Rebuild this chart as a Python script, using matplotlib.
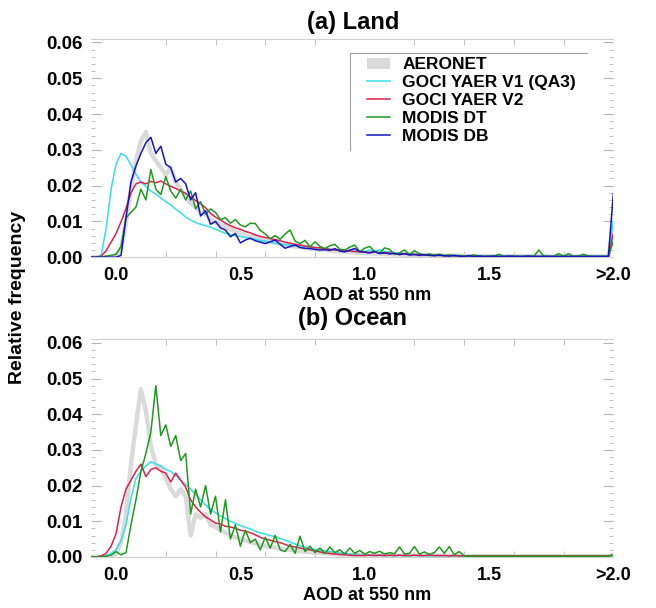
import numpy as np
import matplotlib
matplotlib.use("Agg")
import matplotlib.pyplot as plt
from matplotlib.lines import Line2D
from matplotlib.patches import Patch

plt.rcParams["font.family"] = ["Liberation Sans", "DejaVu Sans"]
plt.rcParams["font.weight"] = "bold"

# AOD bin centres, step 0.02; the last bin is the ">2.0" bin
aod = np.round(np.arange(-0.10, 2.001, 0.02), 2)

series_names = ["AERONET", "GOCI YAER V1 (QA3)", "GOCI YAER V2", "MODIS DT", "MODIS DB"]
x_tick_vals = [0.0, 0.5, 1.0, 1.5, 2.0]
x_tick_labels = ["0.0", "0.5", "1.0", "1.5", ">2.0"]

# ---- (a) Land ----
land_aeronet = [
    0, 0, 0, 0, 0, 0.0005, 0.002, 0.010, 0.019, 0.027,
    0.0325, 0.035, 0.029, 0.027, 0.025, 0.023, 0.025, 0.021, 0.019, 0.017,
    0.015, 0.014, 0.0125, 0.012, 0.0105, 0.0098, 0.009, 0.0085, 0.0078, 0.0072,
    0.0068, 0.0062, 0.0058, 0.0054, 0.0050, 0.0046, 0.0043, 0.0040, 0.0037, 0.0034,
    0.0032, 0.0030, 0.0028, 0.0026, 0.0024, 0.0022, 0.0021, 0.0020, 0.0018, 0.0017,
    0.0016, 0.0015, 0.0014, 0.0013, 0.0012, 0.0012, 0.0011, 0.0010, 0.0010, 0.0009,
    0.0009, 0.0008, 0.0008, 0.0007, 0.0007, 0.0006, 0.0006, 0.0006, 0.0005, 0.0005,
    0.0005, 0.0004, 0.0004, 0.0004, 0.0004, 0.0003, 0.0003, 0.0003, 0.0003, 0.0003,
    0.0003, 0.0003, 0.0003, 0.0003, 0.0003, 0.0003, 0.0003, 0.0003, 0.0003, 0.0003,
    0.0002, 0.0002, 0.0002, 0.0002, 0.0002, 0.0002, 0.0002, 0.0002, 0.0002, 0.0002,
    0.0002, 0.0002, 0.0002, 0.0002, 0.0002, 0.008,
]
land_goci_v1 = [
    0, 0, 0.0005, 0.008, 0.019, 0.026, 0.029, 0.0282, 0.0258, 0.0232,
    0.021, 0.0198, 0.0185, 0.0176, 0.0166, 0.0155, 0.0146, 0.0134, 0.0124, 0.0112,
    0.0104, 0.0097, 0.0092, 0.0088, 0.0084, 0.0078, 0.0072, 0.0067, 0.0063, 0.0060,
    0.0058, 0.0055, 0.0052, 0.0050, 0.0047, 0.0045, 0.0042, 0.0039, 0.0037, 0.0035,
    0.0034, 0.0032, 0.0031, 0.0030, 0.0029, 0.0027, 0.0026, 0.0024, 0.0022, 0.0020,
    0.0019, 0.0018, 0.0017, 0.0016, 0.0015, 0.0016, 0.0020, 0.0015, 0.0021, 0.0014,
    0.0016, 0.0010, 0.0012, 0.0008, 0.0010, 0.0007, 0.0009, 0.0006, 0.0008, 0.0006,
    0.0005, 0.0006, 0.0004, 0.0005, 0.0004, 0.0004, 0.0003, 0.0004, 0.0003, 0.0003,
    0.0004, 0.0003, 0.0003, 0.0004, 0.0003, 0.0003, 0.0003, 0.0004, 0.0003, 0.0003,
    0.0003, 0.0004, 0.0003, 0.0003, 0.0004, 0.0003, 0.0003, 0.0003, 0.0004, 0.0003,
    0.0003, 0.0003, 0.0003, 0.0003, 0.0003, 0.0104,
]
land_goci_v2 = [
    0, 0, 0.0003, 0.0018, 0.0042, 0.0066, 0.0099, 0.0136, 0.018, 0.0205,
    0.021, 0.0205, 0.0212, 0.0208, 0.0213, 0.0205, 0.0198, 0.0192, 0.0185, 0.0178,
    0.0168, 0.0158, 0.015, 0.0138, 0.0122, 0.0112, 0.0104, 0.0095, 0.0088, 0.0082,
    0.0078, 0.0072, 0.0068, 0.0062, 0.0058, 0.0055, 0.0052, 0.0049, 0.0046, 0.0042,
    0.0039, 0.0036, 0.0034, 0.0031, 0.0029, 0.0027, 0.0026, 0.0024, 0.0022, 0.0020,
    0.0019, 0.0018, 0.0017, 0.0016, 0.0015, 0.0014, 0.0013, 0.0015, 0.0012, 0.0011,
    0.0012, 0.0010, 0.0009, 0.0010, 0.0008, 0.0007, 0.0008, 0.0006, 0.0006, 0.0005,
    0.0005, 0.0004, 0.0005, 0.0004, 0.0003, 0.0003, 0.0003, 0.0002, 0.0002, 0.0002,
    0.0002, 0.0002, 0.0002, 0.0002, 0.0002, 0.0002, 0.0002, 0.0002, 0.0002, 0.0002,
    0.0002, 0.0002, 0.0002, 0.0002, 0.0002, 0.0002, 0.0002, 0.0002, 0.0002, 0.0002,
    0.0002, 0.0002, 0.0002, 0.0002, 0.0002, 0.0067,
]
land_modis_dt = [
    0, 0, 0, 0.0003, 0.0005, 0.0008, 0.003, 0.011, 0.0125, 0.014,
    0.019, 0.016, 0.0245, 0.019, 0.0175, 0.0225, 0.0185, 0.0165, 0.019, 0.016,
    0.0185, 0.0135, 0.0155, 0.012, 0.0135, 0.0125, 0.0105, 0.011, 0.0095, 0.0105,
    0.009, 0.0085, 0.0095, 0.0094, 0.0075, 0.0065, 0.0052, 0.0060, 0.0050, 0.0065,
    0.0076, 0.0045, 0.0038, 0.0047, 0.0029, 0.0043, 0.0030, 0.0024, 0.0032, 0.0036,
    0.0022, 0.0020, 0.0028, 0.0034, 0.0015, 0.0025, 0.0030, 0.0016, 0.0012, 0.0026,
    0.0022, 0.0008, 0.0012, 0.0020, 0.0008, 0.0018, 0.0010, 0.0006, 0.0009, 0.0006,
    0.0008, 0.0004, 0.0006, 0.0004, 0.0005, 0.0003, 0.0004, 0.0006, 0.0003, 0.0002,
    0.0003, 0.0002, 0.0008, 0.0002, 0.0002, 0.0003, 0.0002, 0.0002, 0.0003, 0.0002,
    0.0020, 0.0003, 0.0002, 0.0002, 0.0010, 0.0003, 0.0010, 0.0002, 0.0003, 0.0008,
    0.0003, 0.0002, 0.0002, 0.0002, 0.0002, 0.0045,
]
land_modis_db = [
    0, 0, 0, 0, 0, 0, 0.0005, 0.011, 0.021, 0.0255,
    0.029, 0.032, 0.0335, 0.029, 0.031, 0.026, 0.025, 0.021, 0.022, 0.0205,
    0.016, 0.018, 0.0115, 0.013, 0.0092, 0.0100, 0.0082, 0.0076, 0.0057, 0.0066,
    0.0040, 0.0048, 0.0053, 0.0046, 0.0042, 0.0038, 0.0043, 0.0048, 0.0036, 0.0025,
    0.0030, 0.0034, 0.0027, 0.0025, 0.0024, 0.0022, 0.0020, 0.0021, 0.0019, 0.0024,
    0.0017, 0.0015, 0.0020, 0.0024, 0.0016, 0.0014, 0.0012, 0.0016, 0.0010, 0.0013,
    0.0009, 0.0011, 0.0007, 0.0010, 0.0006, 0.0008, 0.0005, 0.0007, 0.0005, 0.0004,
    0.0006, 0.0004, 0.0003, 0.0005, 0.0003, 0.0002, 0.0004, 0.0002, 0.0003, 0.0002,
    0.0002, 0.0003, 0.0002, 0.0002, 0.0003, 0.0002, 0.0002, 0.0002, 0.0003, 0.0002,
    0.0002, 0.0002, 0.0002, 0.0002, 0.0002, 0.0002, 0.0002, 0.0002, 0.0002, 0.0002,
    0.0002, 0.0002, 0.0002, 0.0002, 0.0002, 0.0178,
]

# ---- (b) Ocean ----
ocean_aeronet = [
    0, 0, 0, 0, 0, 0.001, 0.004, 0.012, 0.026, 0.037,
    0.047, 0.041, 0.031, 0.026, 0.025, 0.022, 0.019, 0.017, 0.019, 0.017,
    0.006, 0.012, 0.011, 0.012, 0.009, 0.0085, 0.0075, 0.0068, 0.006, 0.0055,
    0.005, 0.0046, 0.0042, 0.0038, 0.0034, 0.0031, 0.0028, 0.0026, 0.0024, 0.0022,
    0.0020, 0.0018, 0.0016, 0.0015, 0.0014, 0.0012, 0.0011, 0.0010, 0.0009, 0.0008,
    0.0007, 0.0007, 0.0006, 0.0006, 0.0005, 0.0005, 0.0004, 0.0004, 0.0004, 0.0003,
    0.0003, 0.0003, 0.0003, 0.0003, 0.0003, 0.0003, 0.0003, 0.0003, 0.0003, 0.0003,
    0.0003, 0.0003, 0.0003, 0.0003, 0.0003, 0.0002, 0.0002, 0.0002, 0.0002, 0.0002,
    0.0002, 0.0002, 0.0002, 0.0002, 0.0002, 0.0002, 0.0002, 0.0002, 0.0002, 0.0002,
    0.0002, 0.0002, 0.0002, 0.0002, 0.0002, 0.0002, 0.0002, 0.0002, 0.0002, 0.0002,
    0.0002, 0.0002, 0.0002, 0.0002, 0.0002, 0.0005,
]
ocean_goci_v1 = [
    0, 0, 0.0002, 0.0004, 0.001, 0.002, 0.0045, 0.009, 0.0165, 0.022,
    0.024, 0.0255, 0.0267, 0.026, 0.0255, 0.0245, 0.024, 0.0228, 0.0215, 0.0203,
    0.019, 0.0175, 0.016, 0.0145, 0.0132, 0.0124, 0.0115, 0.0108, 0.0100, 0.0094,
    0.0088, 0.0083, 0.0078, 0.0072, 0.0067, 0.0064, 0.0060, 0.0057, 0.0052, 0.0047,
    0.0042, 0.0036, 0.0031, 0.0027, 0.0024, 0.0021, 0.0019, 0.0017, 0.0015, 0.0013,
    0.0011, 0.0010, 0.0008, 0.0007, 0.0006, 0.0005, 0.0005, 0.0004, 0.0004, 0.0004,
    0.0004, 0.0003, 0.0004, 0.0003, 0.0003, 0.0004, 0.0003, 0.0003, 0.0003, 0.0003,
    0.0003, 0.0003, 0.0003, 0.0003, 0.0003, 0.0003, 0.0003, 0.0003, 0.0003, 0.0003,
    0.0003, 0.0003, 0.0003, 0.0003, 0.0003, 0.0003, 0.0003, 0.0003, 0.0003, 0.0003,
    0.0003, 0.0003, 0.0003, 0.0003, 0.0003, 0.0003, 0.0003, 0.0003, 0.0003, 0.0003,
    0.0003, 0.0003, 0.0003, 0.0003, 0.0003, 0.0004,
]
ocean_goci_v2 = [
    0, 0, 0.0003, 0.001, 0.003, 0.0065, 0.014, 0.019, 0.0215, 0.024,
    0.026, 0.0225, 0.0245, 0.025, 0.024, 0.0235, 0.021, 0.0235, 0.0215, 0.0195,
    0.016, 0.014, 0.0125, 0.0112, 0.0104, 0.0095, 0.0092, 0.0086, 0.0084, 0.008,
    0.0075, 0.0072, 0.0068, 0.0062, 0.0055, 0.0050, 0.0047, 0.0043, 0.0040, 0.0035,
    0.0030, 0.0028, 0.0025, 0.0022, 0.0020, 0.0017, 0.0014, 0.0011, 0.0010, 0.0008,
    0.0007, 0.0006, 0.0005, 0.0004, 0.0004, 0.0004, 0.0005, 0.0004, 0.0005, 0.0004,
    0.0005, 0.0004, 0.0005, 0.0004, 0.0004, 0.0005, 0.0004, 0.0004, 0.0005, 0.0004,
    0.0004, 0.0004, 0.0003, 0.0004, 0.0003, 0.0003, 0.0003, 0.0003, 0.0003, 0.0003,
    0.0003, 0.0003, 0.0003, 0.0003, 0.0003, 0.0003, 0.0003, 0.0003, 0.0003, 0.0003,
    0.0003, 0.0003, 0.0003, 0.0003, 0.0003, 0.0003, 0.0003, 0.0003, 0.0003, 0.0003,
    0.0003, 0.0003, 0.0003, 0.0003, 0.0003, 0.0006,
]
ocean_modis_dt = [
    0, 0, 0, 0.0002, 0.0005, 0.0015, 0.0006, 0.0012, 0.009, 0.016,
    0.024, 0.029, 0.035, 0.048, 0.034, 0.037, 0.031, 0.034, 0.027, 0.029,
    0.012, 0.019, 0.014, 0.020, 0.012, 0.017, 0.007, 0.016, 0.005, 0.009,
    0.003, 0.0075, 0.004, 0.005, 0.002, 0.0055, 0.0025, 0.006, 0.002, 0.0015,
    0.0035, 0.001, 0.0058, 0.0015, 0.003, 0.0012, 0.0025, 0.001, 0.0028, 0.0012,
    0.002, 0.0008, 0.0025, 0.001, 0.0018, 0.0008, 0.0015, 0.0010, 0.0016, 0.0008,
    0.0012, 0.0009, 0.0028, 0.0008, 0.0010, 0.0029, 0.0008, 0.0014, 0.0007, 0.0012,
    0.0028, 0.0010, 0.0029, 0.0006, 0.0015, 0.0003, 0.0002, 0.0002, 0.0002, 0.0002,
    0.0002, 0.0002, 0.0002, 0.0002, 0.0002, 0.0002, 0.0002, 0.0002, 0.0002, 0.0002,
    0.0002, 0.0002, 0.0002, 0.0002, 0.0002, 0.0002, 0.0002, 0.0002, 0.0002, 0.0002,
    0.0002, 0.0002, 0.0002, 0.0002, 0.0002, 0.0005,
]

panels = [
    ("(a) Land", [land_aeronet, land_goci_v1, land_goci_v2, land_modis_dt, land_modis_db]),
    ("(b) Ocean", [ocean_aeronet, ocean_goci_v1, ocean_goci_v2, ocean_modis_dt]),
]
line_colors = ["#dadada", "#33e0e6", "#e0204c", "#1f9a1f", "#1414c0"]
line_widths = [3.2, 1.1, 1.1, 1.1, 1.1]

tick_gray = "#b4b4b4"

fig = plt.figure(figsize=(6.56, 6.08), dpi=100)
axes_rects = [[0.139, 0.577, 0.796, 0.359], [0.139, 0.084, 0.796, 0.358]]
title_y = [1 - 23 / 608, 1 - 318 / 608]
xlabel_y = [1 - 295 / 608, 1 - 595 / 608]

for k, (title, series) in enumerate(panels):
    ax = fig.add_axes(axes_rects[k])
    for s, vals in enumerate(series):
        ax.plot(aod, vals, color=line_colors[s], lw=line_widths[s],
                solid_joinstyle="round", zorder=2 + s)

    ax.set_xlim(-0.1, 2.0)
    ax.set_ylim(0, 0.061)

    ax.set_xticks(x_tick_vals)
    ax.set_xticklabels(x_tick_labels)
    ax.set_xticks(np.arange(0, 1.81, 0.2), minor=True)
    ax.tick_params(axis="x", which="major", length=0, pad=7, labelsize=13)
    ax.tick_params(axis="x", which="minor", direction="in", length=4,
                   color=tick_gray, top=True, bottom=True)

    ax.set_yticks(np.arange(0, 0.061, 0.01))
    ax.set_yticklabels([f"{v:.2f}" for v in np.arange(0, 0.061, 0.01)])
    ax.set_yticks(np.arange(0, 0.061, 0.002), minor=True)
    ax.tick_params(axis="y", which="major", direction="in", length=7, width=0.8,
                   color=tick_gray, left=True, right=True, labelsize=13.5, pad=6)
    ax.tick_params(axis="y", which="minor", direction="in", length=3, width=0.6,
                   color=tick_gray, left=True, right=True)

    for side in ["left", "right"]:
        ax.spines[side].set_visible(False)
    for side in ["top", "bottom"]:
        ax.spines[side].set_color("#cfcfcf")
        ax.spines[side].set_linewidth(0.8)

    fig.text(0.538, title_y[k], title, ha="center", va="center", fontsize=17, fontweight="bold")
    fig.text(0.56, xlabel_y[k], "AOD at 550 nm", ha="center", va="center", fontsize=13, fontweight="bold")

    if k == 0:
        handles = [Patch(facecolor=line_colors[0], edgecolor="none")]
        handles += [Line2D([], [], color=c, lw=1.1) for c in line_colors[1:]]
        ax.legend(handles, series_names, loc="upper left", bbox_to_anchor=(0.529, 0.915),
                  frameon=False, borderpad=0, borderaxespad=0, handlelength=1.3,
                  handleheight=0.6, handletextpad=0.7, labelspacing=0.16,
                  prop={"size": 12.5, "weight": "bold"})
        # partial legend frame (top and left edges only)
        ax.plot([0.496, 0.496, 0.950], [0.49, 0.936, 0.936], transform=ax.transAxes,
                color="#a0a0a0", lw=0.8, clip_on=False, zorder=10)

fig.text(18 / 656, 1 - 297 / 608, "Relative frequency", rotation=90, ha="center",
         va="center", fontsize=14, fontweight="bold")

fig.savefig("out.png", dpi=100)
